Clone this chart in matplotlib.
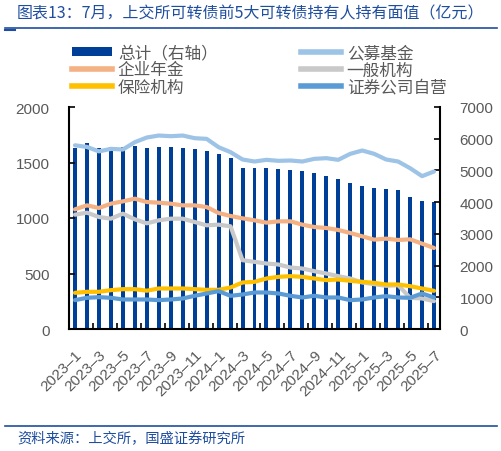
import numpy as np
import matplotlib
matplotlib.use('Agg')
import matplotlib.pyplot as plt
from matplotlib.patches import Patch
from matplotlib.lines import Line2D

# monthly labels 2023–1 .. 2025–7
months = [f"{y}–{m}" for y in (2023, 2024, 2025) for m in range(1, 13)][:31]

total = [5700, 5870, 5700, 5750, 5750, 5760, 5700, 5750, 5730, 5700, 5680,
         5610, 5510, 5400, 5090, 5070, 5070, 5050, 5020, 4980, 4930, 4820,
         4740, 4610, 4510, 4440, 4400, 4370, 4160, 4040, 3990]
fund = [1655, 1640, 1600, 1623, 1617, 1683, 1725, 1743, 1737, 1743, 1719,
        1713, 1638, 1593, 1527, 1509, 1524, 1515, 1518, 1509, 1533, 1539,
        1524, 1578, 1608, 1578, 1527, 1509, 1449, 1377, 1419]
annuity = [1078, 1114, 1090, 1129, 1150, 1174, 1144, 1138, 1129, 1114, 1114,
           1099, 1045, 1018, 997, 979, 958, 970, 970, 940, 919, 910,
           892, 865, 835, 805, 814, 802, 808, 769, 730]
general = [1030, 1048, 1009, 994, 1039, 988, 952, 979, 994, 994, 964,
           934, 940, 925, 620, 605, 590, 581, 554, 545, 521, 500,
           476, 455, 419, 404, 389, 395, 281, 275, 251]
insurance = [326, 335, 335, 350, 359, 359, 345, 365, 365, 365, 359,
             353, 353, 374, 419, 425, 455, 470, 476, 470, 455, 440,
             446, 434, 425, 416, 401, 401, 386, 365, 344]
broker = [260, 281, 287, 281, 266, 266, 266, 260, 266, 275, 299,
          320, 341, 299, 311, 329, 329, 320, 299, 284, 299, 284,
          284, 260, 266, 284, 296, 284, 281, 320, 284]

CJK = ['Noto Sans CJK SC', 'DejaVu Sans']
NUM = 'Liberation Sans'
GREY = '#595959'
BLUE_T = '#1F4E9F'

W, H = 501, 452
fig = plt.figure(figsize=(W/100, H/100), dpi=100, facecolor='white')

ax = fig.add_axes([69/W, 1 - 330/H, (440 - 69)/W, (330 - 108)/H])
ax2 = ax.twinx()
ax.set_zorder(2)
ax.patch.set_visible(False)

x = np.arange(len(months))
ax2.bar(x, total, width=0.33, color='#003F98', zorder=1)

series = [
    (fund, '#9DC3E6', '公募基金'),
    (annuity, '#F4B183', '企业年金'),
    (general, '#C9C9C9', '一般机构'),
    (insurance, '#FFC000', '保险机构'),
    (broker, '#5B9BD5', '证券公司自营'),
]
for vals, col, lab in series:
    ax.plot(x, vals, color=col, lw=3, solid_joinstyle='round',
            solid_capstyle='round')

ax.set_xlim(-0.5, len(months) - 0.5)
ax.set_ylim(0, 2000)
ax2.set_ylim(0, 7000)
ax.set_yticks(range(0, 2001, 500))
ax2.set_yticks(range(0, 7001, 1000))

ax.set_xticks(x[::2])
ax.set_xticklabels(months[::2], rotation=45, ha='right',
                   rotation_mode='anchor', fontsize=11, color=GREY,
                   family=NUM)
ax.set_xticks(np.arange(1.5, len(months) - 1, 2), minor=True)
ax.tick_params(axis='x', which='major', length=0, pad=13)
ax.tick_params(axis='x', which='minor', length=4, direction='in',
               width=1.2, color='black')

for a, side in ((ax, 'left'), (ax2, 'right')):
    a.tick_params(axis='y', direction='in', length=4, width=1.2,
                  labelsize=11, labelcolor=GREY, pad=14)
    for lbl in a.get_yticklabels():
        lbl.set_family(NUM)
    for s in a.spines.values():
        s.set_visible(False)
ax.spines['left'].set_visible(True)
ax.spines['bottom'].set_visible(True)
ax2.spines['right'].set_visible(True)
for s in (ax.spines['left'], ax.spines['bottom'], ax2.spines['right']):
    s.set_linewidth(1.5)
    s.set_color('black')
ax2.tick_params(axis='x', length=0)

# legend, column-major order
handles = [
    Patch(facecolor='#003F98', edgecolor='none', label='总计（右轴）'),
    Line2D([], [], color='#F4B183', lw=4, label='企业年金'),
    Line2D([], [], color='#FFC000', lw=4, label='保险机构'),
    Line2D([], [], color='#9DC3E6', lw=4, label='公募基金'),
    Line2D([], [], color='#C9C9C9', lw=4, label='一般机构'),
    Line2D([], [], color='#5B9BD5', lw=4, label='证券公司自营'),
]
leg = fig.legend(handles=handles, ncol=2, loc='upper left',
                 bbox_to_anchor=(72/W, 1 - 45/H), frameon=False,
                 prop={'family': CJK, 'size': 12}, handlelength=2.4,
                 handleheight=0.45, handletextpad=0.35, labelspacing=0.02,
                 columnspacing=5.0, borderpad=0, borderaxespad=0)
for t in leg.get_texts():
    t.set_color(GREY)

# title and source
fig.text(17/W, 1 - 14/H, '图表13：7月，上交所可转债前5大可转债持有人持有面值（亿元）',
         family=CJK, fontsize=11.5, color=BLUE_T, va='center', ha='left')
fig.add_artist(Line2D([5/W, 497/W], [1 - 29/H, 1 - 29/H], color=BLUE_T, lw=1.2))
fig.add_artist(Line2D([5/W, 15/W], [1 - 31/H, 1 - 31/H], color=BLUE_T, lw=1.5))
fig.add_artist(Line2D([5/W, 497/W], [1 - 427/H, 1 - 427/H], color=BLUE_T, lw=1.2))
fig.text(17/W, 1 - 439/H, '资料来源：上交所，国盛证券研究所', family=CJK,
         fontsize=10.3, color=BLUE_T, va='center', ha='left')

fig.savefig('out.png', dpi=100, facecolor='white')
